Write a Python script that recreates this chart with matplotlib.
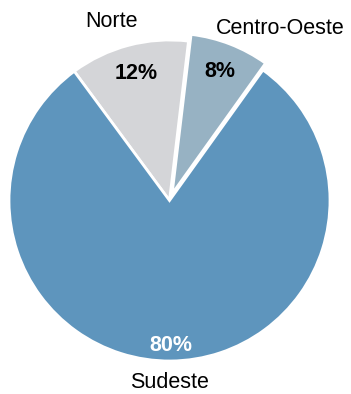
import matplotlib
matplotlib.use("Agg")
import matplotlib.pyplot as plt
import numpy as np

plt.rcParams['font.family'] = ['Liberation Sans', 'DejaVu Sans']

regioes = ['Centro-Oeste', 'Norte', 'Sudeste']
valores = [8, 12, 80]
cores = ['#97b2c3', '#d4d5d8', '#5e95bd']
explode = [0.045, 0, 0]

W, H = 351, 394
fig = plt.figure(figsize=(W / 100, H / 100), dpi=100)
ax = fig.add_axes([0, 0, 1, 1])

# pie center / radius in pixels
cx, cy, r = 169.5, 200.5, 160.5

wedges, _ = ax.pie(valores, colors=cores, explode=explode, startangle=54.4,
                   radius=1, frame=True,
                   wedgeprops=dict(edgecolor='white', linewidth=2))
ax.set_xlim(-cx / r, (W - cx) / r)
ax.set_ylim(-(H - cy) / r, cy / r)
ax.axis('off')

fs = 15.5
# percentages
pct_dist = {'Centro-Oeste': 0.82, 'Norte': 0.82, 'Sudeste': 0.905}
lab_off = {'Centro-Oeste': (0.69, 1.07), 'Norte': (-0.36, 1.115), 'Sudeste': (0.0, -1.135)}
for w, nome, v in zip(wedges, regioes, valores):
    ang = np.deg2rad((w.theta1 + w.theta2) / 2)
    ox, oy = w.center
    d = pct_dist[nome]
    cor = 'white' if nome == 'Sudeste' else 'black'
    ax.text(ox + d * np.cos(ang), oy + d * np.sin(ang), f'{v}%', ha='center', va='center',
            fontsize=fs, fontweight='bold', color=cor)
    lx, ly = lab_off[nome]
    ax.text(lx, ly, nome, ha='center', va='center', fontsize=fs, color='black')

fig.savefig('out.png', dpi=100)
